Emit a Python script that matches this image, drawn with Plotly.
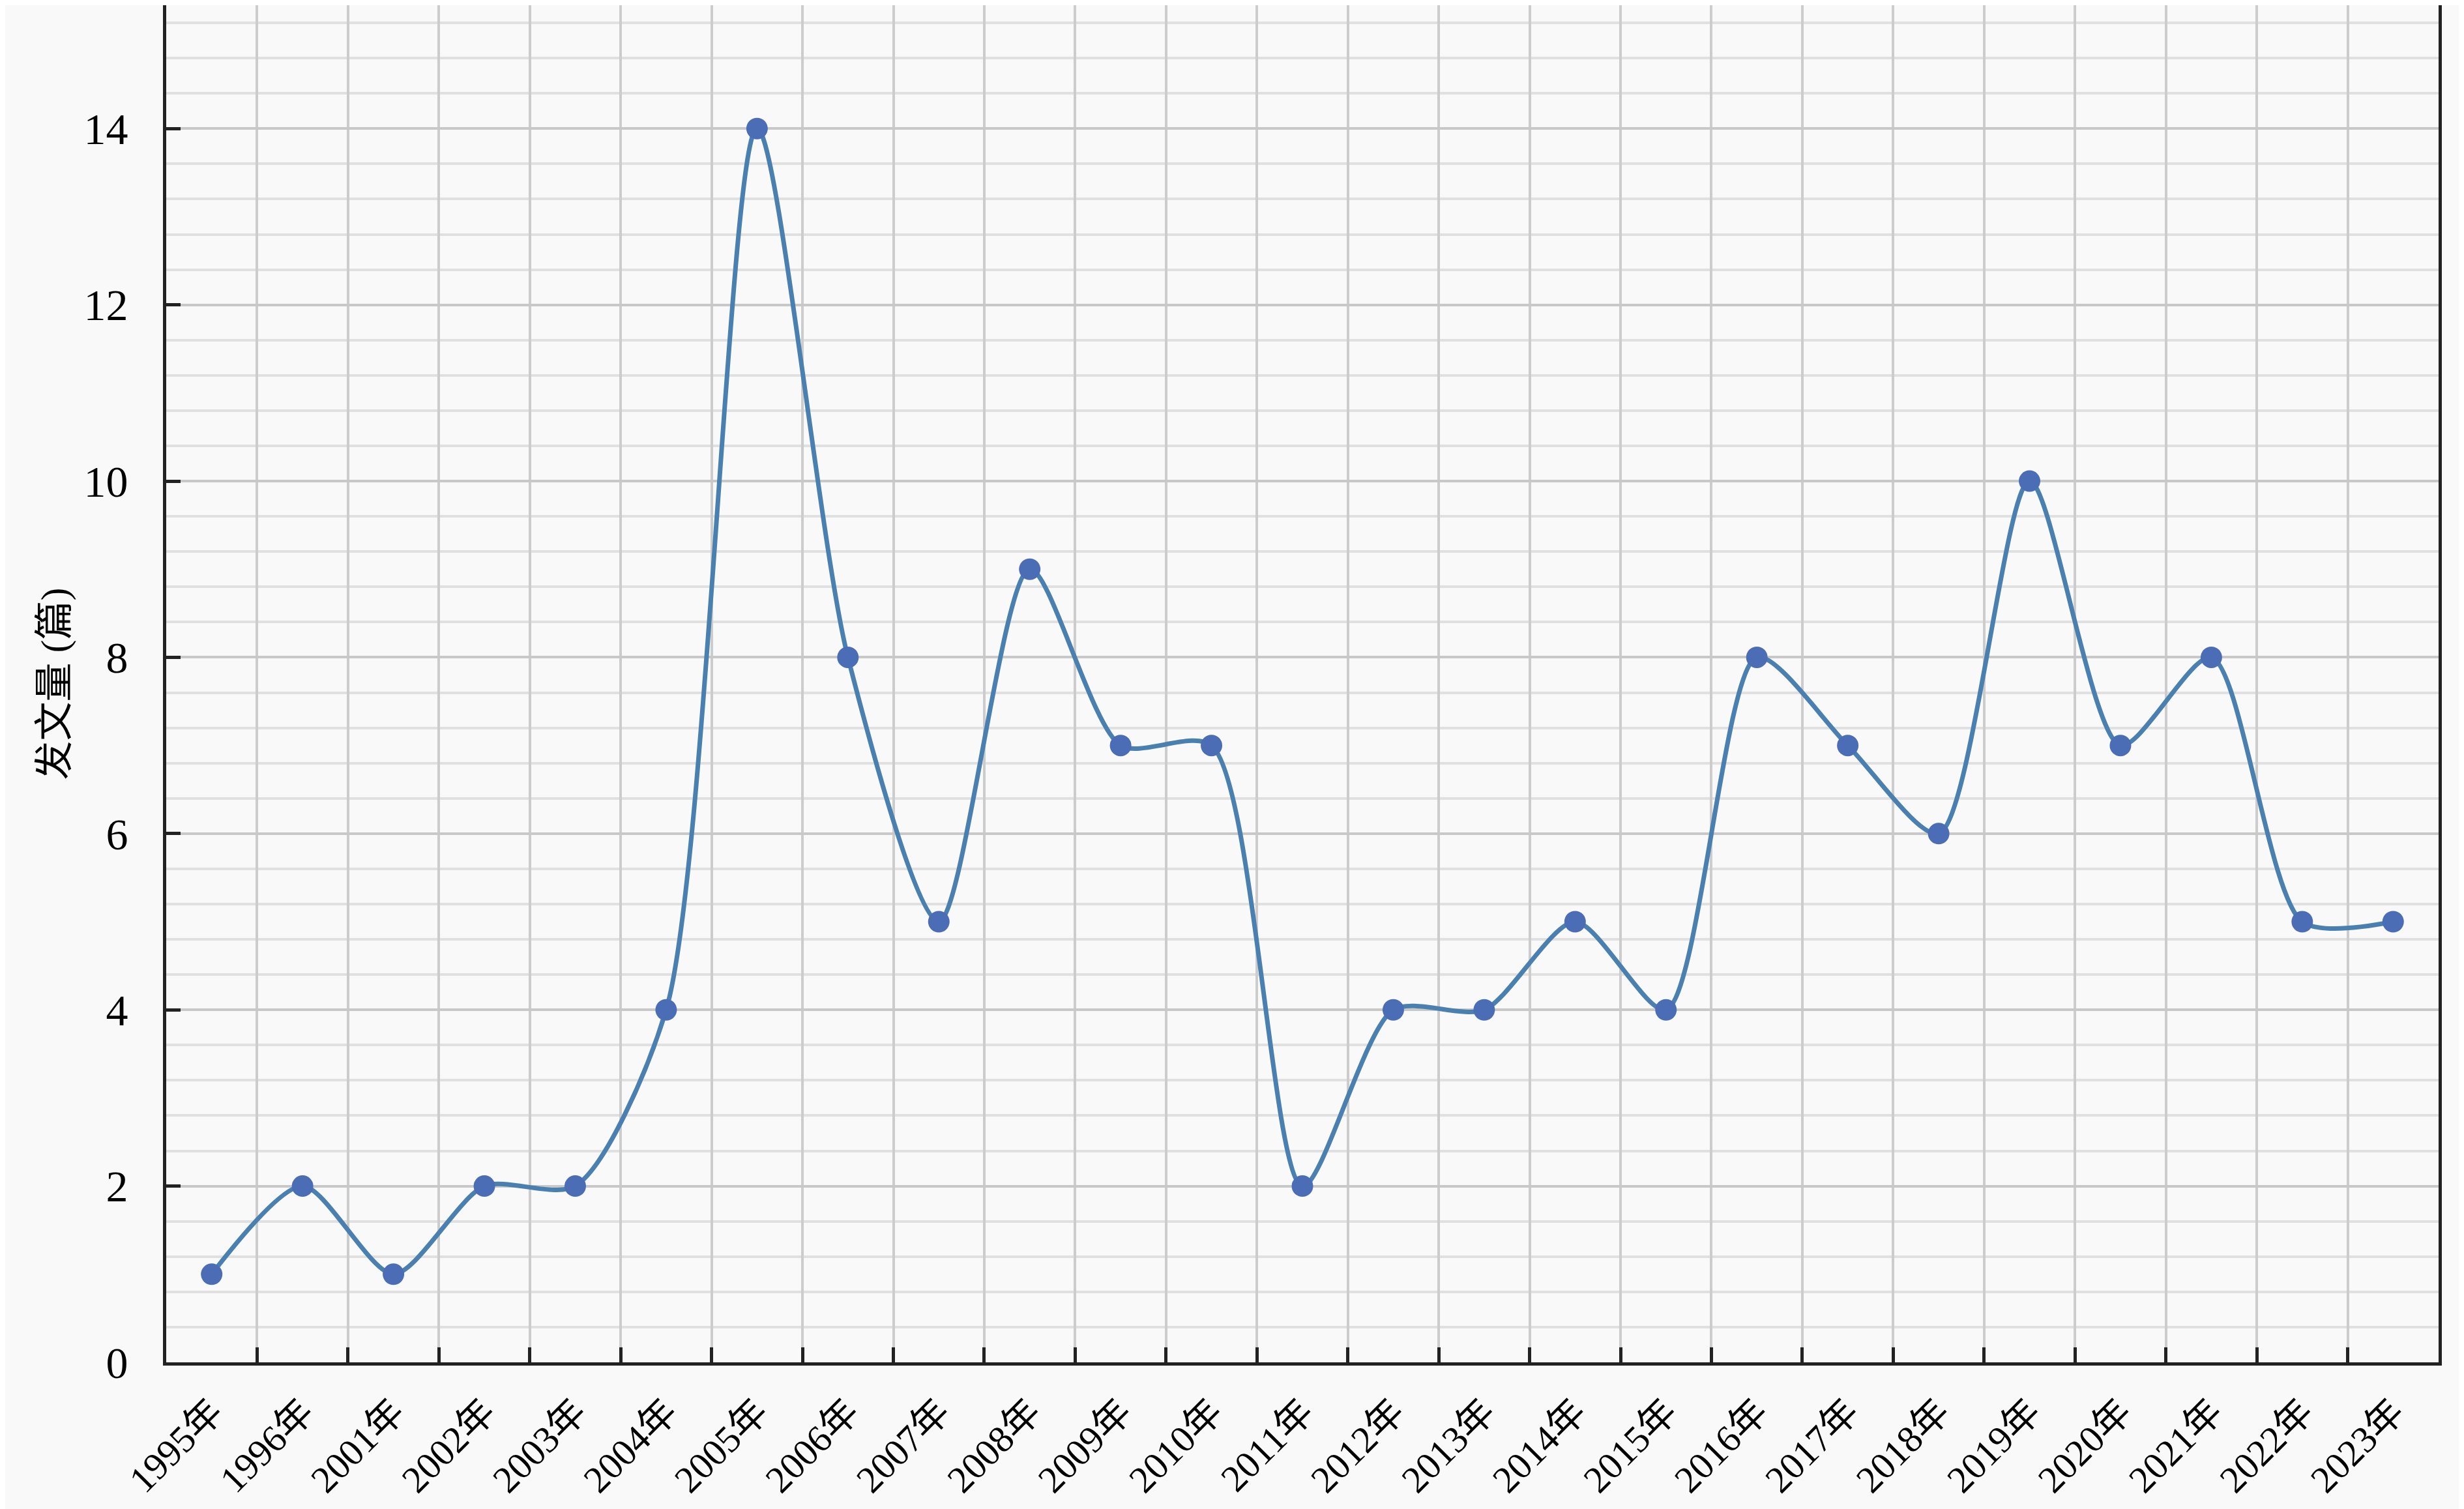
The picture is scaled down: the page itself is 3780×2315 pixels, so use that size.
import plotly.graph_objects as go

# 年份（类目）和发文量
years = ["1995年", "1996年", "2001年", "2002年", "2003年", "2004年", "2005年",
         "2006年", "2007年", "2008年", "2009年", "2010年", "2011年", "2012年",
         "2013年", "2014年", "2015年", "2016年", "2017年", "2018年", "2019年",
         "2020年", "2021年", "2022年", "2023年"]
counts = [1, 2, 1, 2, 2, 4, 14, 8, 5, 9, 7, 7, 2, 4, 4, 5, 4, 8, 7, 6, 10, 7, 8, 5, 5]

y_ticks = [0, 2, 4, 6, 8, 10, 12, 14]

font_family = "Liberation Serif, Noto Sans CJK SC, serif"

fig = go.Figure()
fig.add_trace(go.Scatter(
    x=years, y=counts,
    mode="lines+markers",
    line=dict(shape="spline", smoothing=0.75, color="#4a80b0", width=7),
    marker=dict(size=33, color="#4a6db5"),
    showlegend=False,
))

# 页面 body 默认有 8px 边距，所以画布略小一点
fig.update_layout(
    width=3772, height=2307,
    paper_bgcolor="#f9f9f9", plot_bgcolor="#f9f9f9",
    margin=dict(l=247, r=39, t=0, b=225),
    font=dict(family=font_family, size=68, color="#000000"),
)

fig.update_xaxes(
    type="category",
    range=[-0.5, len(years) - 0.5],
    tickson="boundaries",
    ticks="inside", ticklen=23, tickwidth=5, tickcolor="#222222",
    tickangle=-45, ticklabelstandoff=14,
    tickfont=dict(size=58),
    automargin=False,
    showgrid=True, gridcolor="#cccccc", gridwidth=4,
    showline=True, linecolor="#222222", linewidth=5, mirror=True,
    zeroline=False,
)

fig.update_yaxes(
    range=[0, 15.4],
    tickvals=y_ticks,
    ticks="inside", ticklen=22, tickwidth=5, tickcolor="#222222",
    ticklabelstandoff=40,
    automargin=False,
    showgrid=True, gridcolor="#c8c8c8", gridwidth=4,
    minor=dict(dtick=0.4, showgrid=True, gridcolor="#e0e0e0", gridwidth=4, ticks=""),
    showline=True, linecolor="#222222", linewidth=5, mirror=True,
    zeroline=False,
    title=dict(text="发文量 (篇)", standoff=6, font=dict(size=60)),
)

fig.write_html("out.html")
